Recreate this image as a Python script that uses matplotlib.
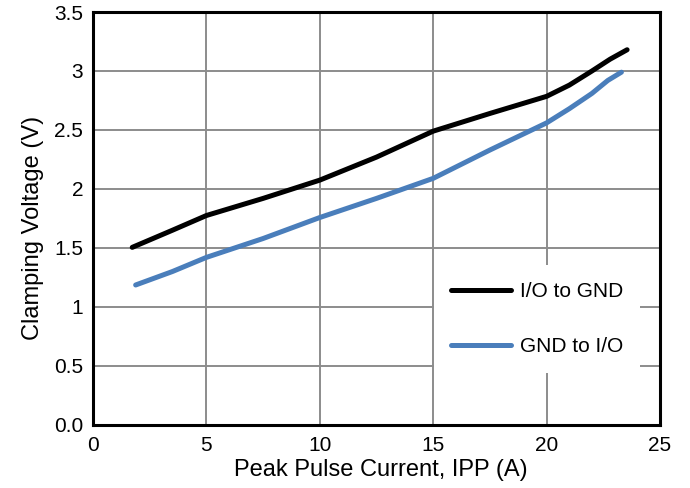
import matplotlib
matplotlib.use('Agg')
import matplotlib.pyplot as plt

plt.rcParams['font.family'] = ['Liberation Sans', 'DejaVu Sans']

# I/O to GND
io_gnd_x = [1.73, 3.5, 5, 7.5, 10, 12.5, 15, 17.5, 20, 21, 22, 22.8, 23.55]
io_gnd_y = [1.505, 1.65, 1.775, 1.92, 2.075, 2.27, 2.49, 2.64, 2.785, 2.88, 3.0, 3.10, 3.18]

# GND to I/O
gnd_io_x = [1.88, 3.5, 5, 7.5, 10, 12.5, 15, 17.5, 20, 21, 22, 22.7, 23.3]
gnd_io_y = [1.186, 1.30, 1.42, 1.58, 1.758, 1.92, 2.09, 2.33, 2.56, 2.68, 2.81, 2.92, 2.99]

x_ticks = [0, 5, 10, 15, 20, 25]
y_ticks = [0, 0.5, 1, 1.5, 2, 2.5, 3, 3.5]
y_tick_labels = ['0.0', '0.5', '1', '1.5', '2', '2.5', '3', '3.5']

fig, ax = plt.subplots(figsize=(6.9, 4.88), dpi=100)
fig.subplots_adjust(left=0.1348, right=0.9565, top=0.9754, bottom=0.1293)

ax.plot(io_gnd_x, io_gnd_y, color='black', linewidth=3.6,
        solid_capstyle='round', solid_joinstyle='round', label='I/O to GND', zorder=3)
ax.plot(gnd_io_x, gnd_io_y, color='#4a7ebb', linewidth=3.6,
        solid_capstyle='round', solid_joinstyle='round', label='GND to I/O', zorder=3)

ax.set_xlim(0, 25)
ax.set_ylim(0, 3.5)
ax.set_xticks(x_ticks)
ax.set_yticks(y_ticks)
ax.set_yticklabels(y_tick_labels)
ax.tick_params(axis='both', length=0, labelsize=15)
ax.tick_params(axis='y', pad=7)
ax.tick_params(axis='x', pad=8)

ax.grid(True, color='#8c8c8c', linewidth=1.4, zorder=0)
ax.set_axisbelow(True)
for s in ax.spines.values():
    s.set_linewidth(2.2)
    s.set_color('black')

ax.set_xlabel('Peak Pulse Current, IPP (A)', fontsize=17, labelpad=3)
ax.set_ylabel('Clamping Voltage (V)', fontsize=17, labelpad=7)
ax.xaxis.label.set_x(0.507)
ax.yaxis.label.set_y(0.476)

leg = ax.legend(loc='center left', bbox_to_anchor=(0.602, 0.256), borderaxespad=0,
                fontsize=15, handlelength=2.9, handletextpad=0.4,
                labelspacing=1.75, borderpad=0.8, frameon=True, fancybox=False,
                facecolor='white', edgecolor='none', framealpha=1)
leg.set_zorder(5)

plt.savefig('out.png', dpi=100)
plt.close()
